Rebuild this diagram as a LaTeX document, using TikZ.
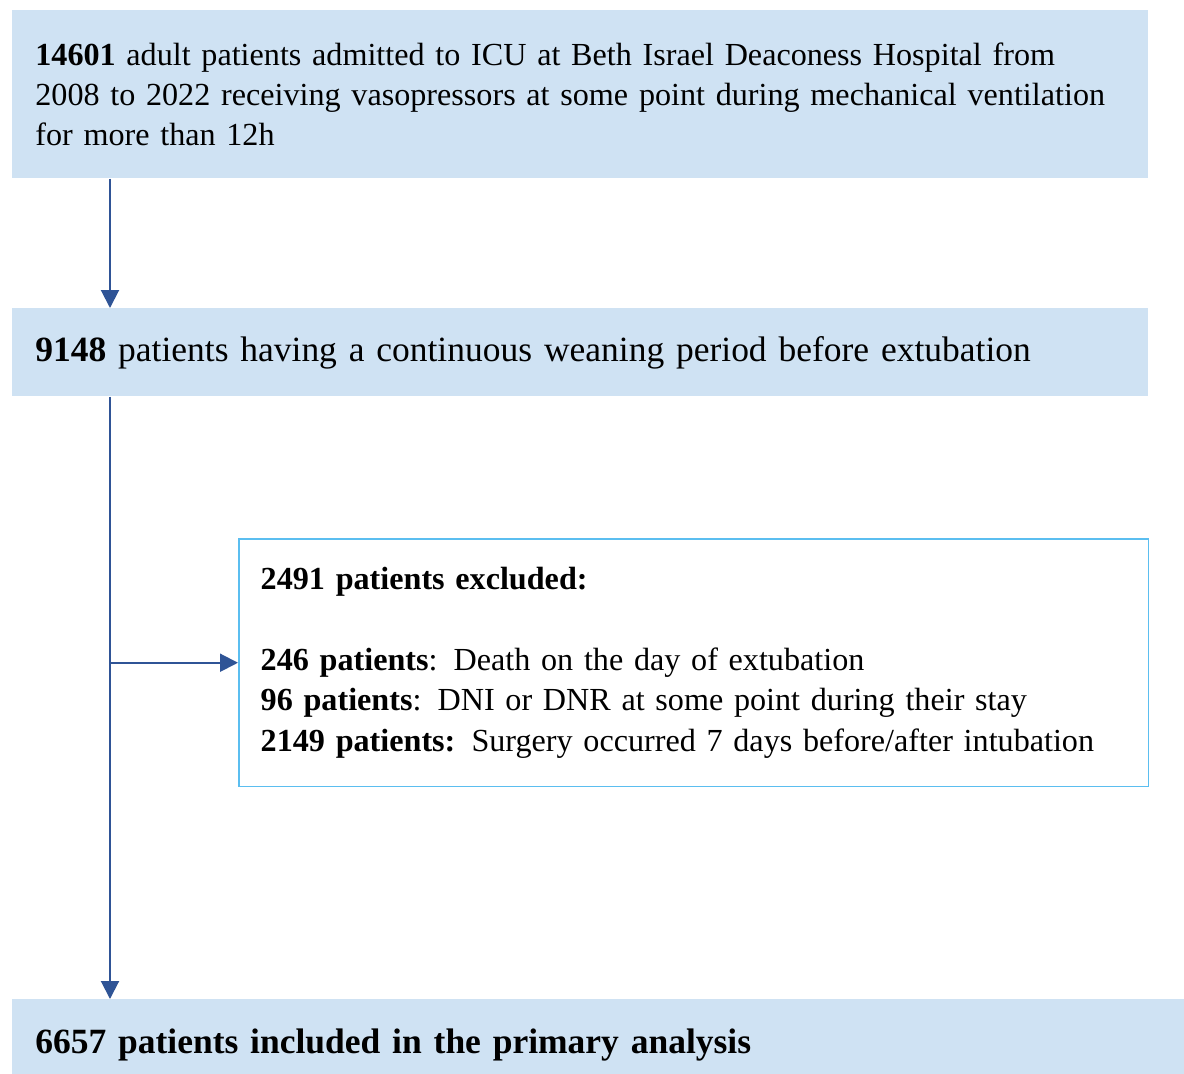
\documentclass[tikz,border=0pt]{standalone}
\usepackage{fontspec}
\setmainfont{Liberation Serif}
\usetikzlibrary{positioning, arrows.meta}
\definecolor{stageColor}{RGB}{207,226,243}
\definecolor{arrowColor}{RGB}{47,84,150}
\definecolor{excludedColor}{RGB}{91,190,240}
\newcommand{\flowFont}{\fontsize{18.3}{23}\selectfont}
\newcommand{\stageFont}{\fontsize{20.2}{23}\selectfont}
\tikzstyle{chart} = [x = 0.02cm, y = -0.02cm]
\tikzstyle{stageBox} = [anchor=north west, fill=stageColor, inner xsep=0.46cm, inner ysep=0, align=left, font=\flowFont]
\tikzstyle{excludedBox} = [anchor=north west, draw=excludedColor, fill=white, line width=0.03cm, inner xsep=0.44cm, inner ysep=0, align=left, font=\flowFont]
\tikzstyle{flowArrow} = [draw=arrowColor, line width=0.04cm, -{Triangle[width=0.36cm, length=0.36cm]}]

\begin{document}
\begin{tikzpicture}[chart]
            \useasboundingbox (0,0) rectangle (1184,1073);
            \coordinate (spine) at (110,0);

            \node [stageBox, text width=21.8cm, minimum height=3.36cm] (cohort) at (12,10)
              {\textbf{14601} adult patients admitted to ICU at Beth Israel Deaconess Hospital from\\
               \mbox{2008 to 2022 receiving vasopressors at some point during mechanical ventilation}\\
               for more than 12h};
            \node [stageBox, text width=21.8cm, minimum height=1.76cm, font=\stageFont] (weaning) at (12,308)
              {\textbf{9148} patients having a continuous weaning period before extubation};
            \node [excludedBox, text width=17.32cm, minimum height=4.96cm] (excluded) at (238,538)
              {\textbf{2491 patients excluded:}\\[23pt]
               \textbf{246 patients}: Death on the day of extubation\\
               \textbf{96 patients}: DNI or DNR at some point during their stay\\
               \textbf{2149 patients:} Surgery occurred 7 days before/after intubation};
            \node [stageBox, text width=23.08cm, minimum height=1.84cm, font=\stageFont] (included) at (12,999)
              {\textbf{6657 patients included in the primary analysis}};

            \draw [flowArrow] (cohort.south -| spine) -- (weaning.north -| spine);
            \draw [flowArrow] (weaning.south -| spine) -- (included.north -| spine);
            \draw [flowArrow] (excluded.west -| spine) -- (excluded.west);
          \end{tikzpicture}
\end{document}
